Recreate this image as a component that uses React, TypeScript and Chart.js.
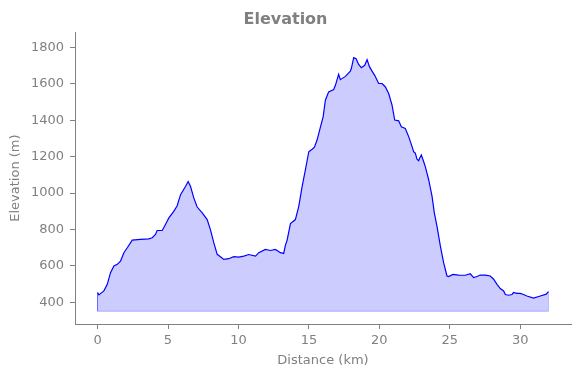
import React, { useEffect, useRef } from "react";
import { Chart, registerables } from "chart.js";

Chart.register(...registerables);

const distanceKm = [
  0, 0.09, 0.45, 0.69, 0.92, 1.16, 1.4, 1.63, 1.87, 2.11, 2.46, 3.05, 3.64, 3.88, 4.11, 4.23, 4.59, 4.82,
  5.06, 5.41, 5.65, 5.89, 6.24, 6.43, 6.6, 6.83, 7.07, 7.43, 7.78, 8.01, 8.25, 8.49, 8.72, 8.96, 9.31, 9.67,
  10.02, 10.38, 10.73, 11.21, 11.44, 11.91, 12.27, 12.62, 12.98, 13.21, 13.33, 13.45, 13.69, 14.04, 14.28,
  14.52, 14.75, 14.99, 15.23, 15.39, 15.58, 15.82, 16.01, 16.17, 16.4, 16.76, 16.88, 17.11, 17.23, 17.59,
  17.94, 18.01, 18.18, 18.35, 18.53, 18.72, 18.96, 19.13, 19.29, 19.48, 19.67, 19.84, 19.95, 20.19, 20.43,
  20.66, 20.9, 21.09, 21.37, 21.56, 21.84, 22.08, 22.32, 22.43, 22.55, 22.67, 22.79, 22.86, 22.98, 23.14,
  23.26, 23.5, 23.74, 23.9, 24.09, 24.33, 24.56, 24.8, 24.91, 25.23, 25.62, 26.1, 26.45, 26.69, 26.93,
  27.16, 27.52, 27.87, 28.11, 28.35, 28.58, 28.82, 28.94, 29.17, 29.41, 29.52, 29.76, 30.0, 30.23, 30.47,
  30.94, 31.42, 31.84, 32.0,
];

const elevationM = [
  453, 440, 462, 498, 562, 599, 608, 626, 672, 699, 741, 745, 748, 754, 772, 794, 794, 827,
  863, 899, 930, 991, 1036, 1063, 1036, 973, 923, 891, 854, 799, 727, 663, 650, 635, 639, 650,
  648, 653, 662, 653, 672, 690, 684, 690, 672, 668, 712, 740, 832, 854, 927,
  1036, 1127, 1227, 1241, 1252, 1291, 1364, 1419, 1510, 1556, 1569, 1592, 1652, 1623, 1641,
  1670, 1684, 1744, 1738, 1707, 1689, 1702, 1733, 1696, 1670, 1647, 1620, 1602, 1602, 1583,
  1547, 1483, 1401, 1397, 1364, 1355, 1310, 1255, 1227, 1219, 1186, 1178, 1191, 1209, 1173,
  1145, 1073, 981, 891, 817, 708, 617, 544, 541, 553, 549, 548, 556, 535, 541,
  549, 549, 544, 526, 498, 475, 462, 442, 438, 442, 453, 448, 448, 442, 434,
  422, 434, 444, 458,
];

const baseElevation = 350;
const xTickValues = [0, 5, 10, 15, 20, 25, 30];
const yTickValues = [400, 600, 800, 1000, 1200, 1400, 1600, 1800];

const GRAY = "#808080";
const FONT = "'DejaVu Sans', sans-serif";

export default function App() {
  const canvasRef = useRef<HTMLCanvasElement | null>(null);

  useEffect(() => {
    document.body.style.margin = "0";
    const canvas = canvasRef.current;
    if (!canvas) return;

    const profile = distanceKm.map((d, i) => ({ x: d, y: elevationM[i] }));
    const first = distanceKm[0];
    const last = distanceKm[distanceKm.length - 1];
    const edge = [
      { x: first, y: elevationM[0] },
      { x: first, y: baseElevation },
      { x: last, y: baseElevation },
      { x: last, y: elevationM[elevationM.length - 1] },
    ];

    const chart = new Chart(canvas, {
      type: "line",
      data: {
        datasets: [
          {
            label: "fill-edge",
            data: edge,
            borderColor: "rgba(0,0,255,0.25)",
            borderWidth: 1,
            pointRadius: 0,
            fill: false,
          },
          {
            label: "Elevation",
            data: profile,
            borderColor: "#0000ff",
            borderWidth: 1.2,
            backgroundColor: "rgba(0,0,255,0.2)",
            pointRadius: 0,
            tension: 0,
            fill: { value: baseElevation },
          },
        ],
      },
      options: {
        responsive: false,
        animation: false,
        layout: { padding: { left: 0, right: 9, top: 0, bottom: 0 } },
        plugins: {
          legend: { display: false },
          tooltip: { enabled: false },
          title: {
            display: true,
            text: "Elevation",
            color: GRAY,
            font: { family: FONT, size: 16, weight: "bold", lineHeight: 1.2 },
            padding: { top: 10, bottom: 3 },
          },
        },
        scales: {
          x: {
            type: "linear",
            min: -1.6,
            max: 33.6,
            afterBuildTicks: (s: any) => {
              s.ticks = xTickValues.map((v) => ({ value: v }));
            },
            afterFit: (s: any) => {
              s.height = 54;
            },
            ticks: {
              color: GRAY,
              font: { family: FONT, size: 13 },
              padding: 4,
              maxRotation: 0,
              autoSkip: false,
              callback: (v: any) => String(v),
            },
            grid: {
              drawOnChartArea: false,
              drawTicks: true,
              tickLength: 5,
              color: GRAY,
            },
            border: { display: true, color: GRAY, width: 1 },
            title: {
              display: true,
              text: "Distance (km)",
              color: GRAY,
              font: { family: FONT, size: 13, lineHeight: 1.2 },
              padding: { top: 0, bottom: 10 },
            },
          },
          y: {
            type: "linear",
            min: 280,
            max: 1884,
            afterBuildTicks: (s: any) => {
              s.ticks = yTickValues.map((v) => ({ value: v }));
            },
            afterFit: (s: any) => {
              s.width = 75;
            },
            ticks: {
              color: GRAY,
              font: { family: FONT, size: 13 },
              padding: 6,
              autoSkip: false,
              callback: (v: any) => String(v),
            },
            grid: {
              drawOnChartArea: false,
              drawTicks: true,
              tickLength: 5,
              color: GRAY,
            },
            border: { display: true, color: GRAY, width: 1 },
            title: {
              display: true,
              text: "Elevation (m)",
              color: GRAY,
              font: { family: FONT, size: 13, lineHeight: 1.2 },
              padding: { top: 8, bottom: 0 },
            },
          },
        },
      },
    });

    return () => {
      chart.destroy();
    };
  }, []);

  return (
    <div style={{ width: 580, height: 378 }}>
      <canvas ref={canvasRef} width={580} height={378} />
    </div>
  );
}
